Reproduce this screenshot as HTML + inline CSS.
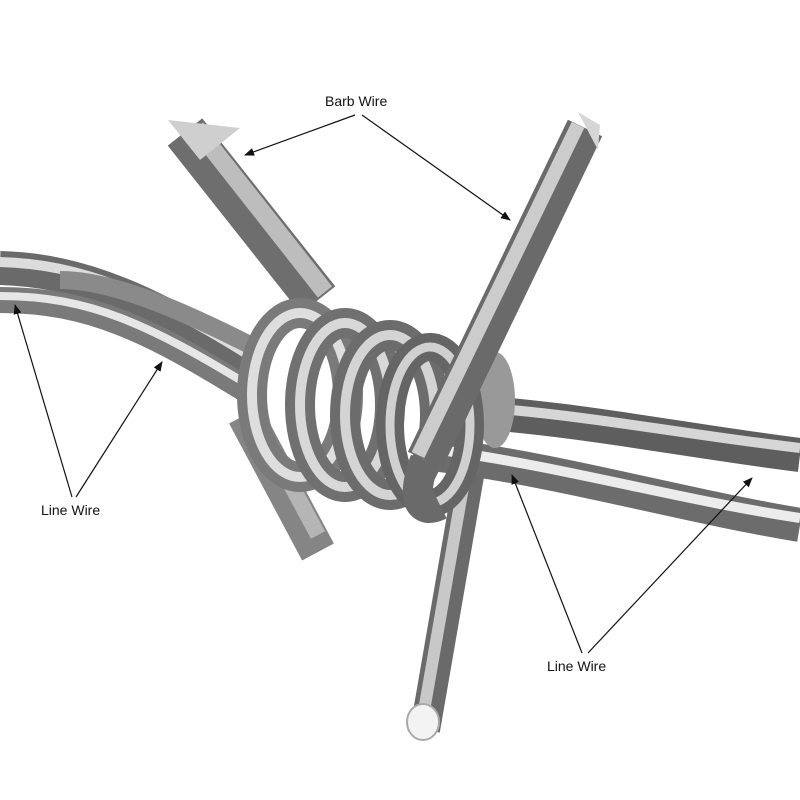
<!DOCTYPE html>
<html><head><meta charset="utf-8"><style>
html,body{margin:0;padding:0;background:#fff;width:800px;height:800px;overflow:hidden}
text{font-family:"Liberation Sans",sans-serif;font-size:14px;fill:#111}
</style></head><body>
<svg width="800" height="800" viewBox="0 0 800 800" xmlns="http://www.w3.org/2000/svg">
<defs>
<marker id="ah" markerWidth="10" markerHeight="8" refX="9" refY="4" orient="auto" markerUnits="userSpaceOnUse">
<path d="M0,0 L10,4 L0,8 z" fill="#111"/></marker>
</defs>
<rect width="800" height="800" fill="#fff"/>

<!-- lower barb (left lower) -->
<path d="M245,415 L318,552" stroke="#858585" stroke-width="36"/>
<path d="M252,412 L318,535" stroke="#b5b5b5" stroke-width="16"/>
<!-- lower barb (right lower) -->
<path d="M470,470 L425,730" stroke="#6a6a6a" stroke-width="30"/>
<path d="M466,470 L421,728" stroke="#c8c8c8" stroke-width="12"/>
<ellipse cx="423" cy="722" rx="16" ry="18" fill="#f3f3f3" stroke="#aaa" stroke-width="2"/>

<!-- upper left barb -->
<path d="M185,132 L318,300" stroke="#6e6e6e" stroke-width="44"/>
<path d="M196,128 L325,292" stroke="#bdbdbd" stroke-width="18"/>
<polygon points="168,120 240,128 200,160" fill="#cfcfcf"/>

<!-- line wires left -->
<path d="M0,268 C80,270 150,300 260,370" stroke="#6a6a6a" stroke-width="34" fill="none"/>
<path d="M0,262 C80,264 150,292 260,362" stroke="#dcdcdc" stroke-width="10" fill="none"/>
<path d="M0,300 C90,300 150,330 250,392" stroke="#7a7a7a" stroke-width="26" fill="none"/>
<path d="M0,296 C90,296 150,325 250,386" stroke="#e6e6e6" stroke-width="8" fill="none"/>
<path d="M60,280 C120,280 200,320 260,350" stroke="#8a8a8a" stroke-width="18" fill="none"/>

<!-- line wires right -->
<path d="M440,410 C560,415 680,440 800,455" stroke="#5e5e5e" stroke-width="34" fill="none"/>
<path d="M440,405 C560,410 680,434 800,448" stroke="#d6d6d6" stroke-width="10" fill="none"/>
<path d="M440,455 C560,470 680,505 800,525" stroke="#6c6c6c" stroke-width="34" fill="none"/>
<path d="M440,450 C560,466 680,500 800,518" stroke="#ececec" stroke-width="10" fill="none"/>

<!-- coil -->
<g fill="none">
<ellipse cx="495" cy="400" rx="20" ry="48" fill="#999"/>
<ellipse cx="300" cy="395" rx="48" ry="82" stroke="#7a7a7a" stroke-width="30"/>
<ellipse cx="300" cy="395" rx="48" ry="82" stroke="#dedede" stroke-width="10"/>
<ellipse cx="345" cy="405" rx="45" ry="82" stroke="#707070" stroke-width="30"/>
<ellipse cx="345" cy="405" rx="45" ry="82" stroke="#d8d8d8" stroke-width="10"/>
<ellipse cx="390" cy="415" rx="45" ry="80" stroke="#6c6c6c" stroke-width="30"/>
<ellipse cx="390" cy="415" rx="45" ry="80" stroke="#d4d4d4" stroke-width="10"/>
<ellipse cx="430" cy="425" rx="40" ry="78" stroke="#656565" stroke-width="28"/>
<ellipse cx="430" cy="425" rx="40" ry="78" stroke="#d0d0d0" stroke-width="9"/>
</g>

<!-- upper right barb -->
<path d="M585,128 L425,460" stroke="#6a6a6a" stroke-width="38"/>
<path d="M578,125 L418,455" stroke="#cccccc" stroke-width="14"/>
<polygon points="578,112 600,125 598,150" fill="#d6d6d6"/>
<path d="M425,460 C410,500 420,515 440,505" stroke="#6a6a6a" stroke-width="30" fill="none"/>

<!-- labels and arrows -->
<text x="325" y="106">Barb Wire</text>
<line x1="355" y1="115" x2="245" y2="155" stroke="#111" stroke-width="1.2" marker-end="url(#ah)"/>
<line x1="362" y1="115" x2="510" y2="220" stroke="#111" stroke-width="1.2" marker-end="url(#ah)"/>
<text x="41" y="515">Line Wire</text>
<line x1="72" y1="497" x2="15" y2="305" stroke="#111" stroke-width="1.2" marker-end="url(#ah)"/>
<line x1="76" y1="497" x2="162" y2="362" stroke="#111" stroke-width="1.2" marker-end="url(#ah)"/>
<text x="547" y="671">Line Wire</text>
<line x1="582" y1="653" x2="512" y2="475" stroke="#111" stroke-width="1.2" marker-end="url(#ah)"/>
<line x1="588" y1="653" x2="752" y2="478" stroke="#111" stroke-width="1.2" marker-end="url(#ah)"/>
</svg>
</body></html>
